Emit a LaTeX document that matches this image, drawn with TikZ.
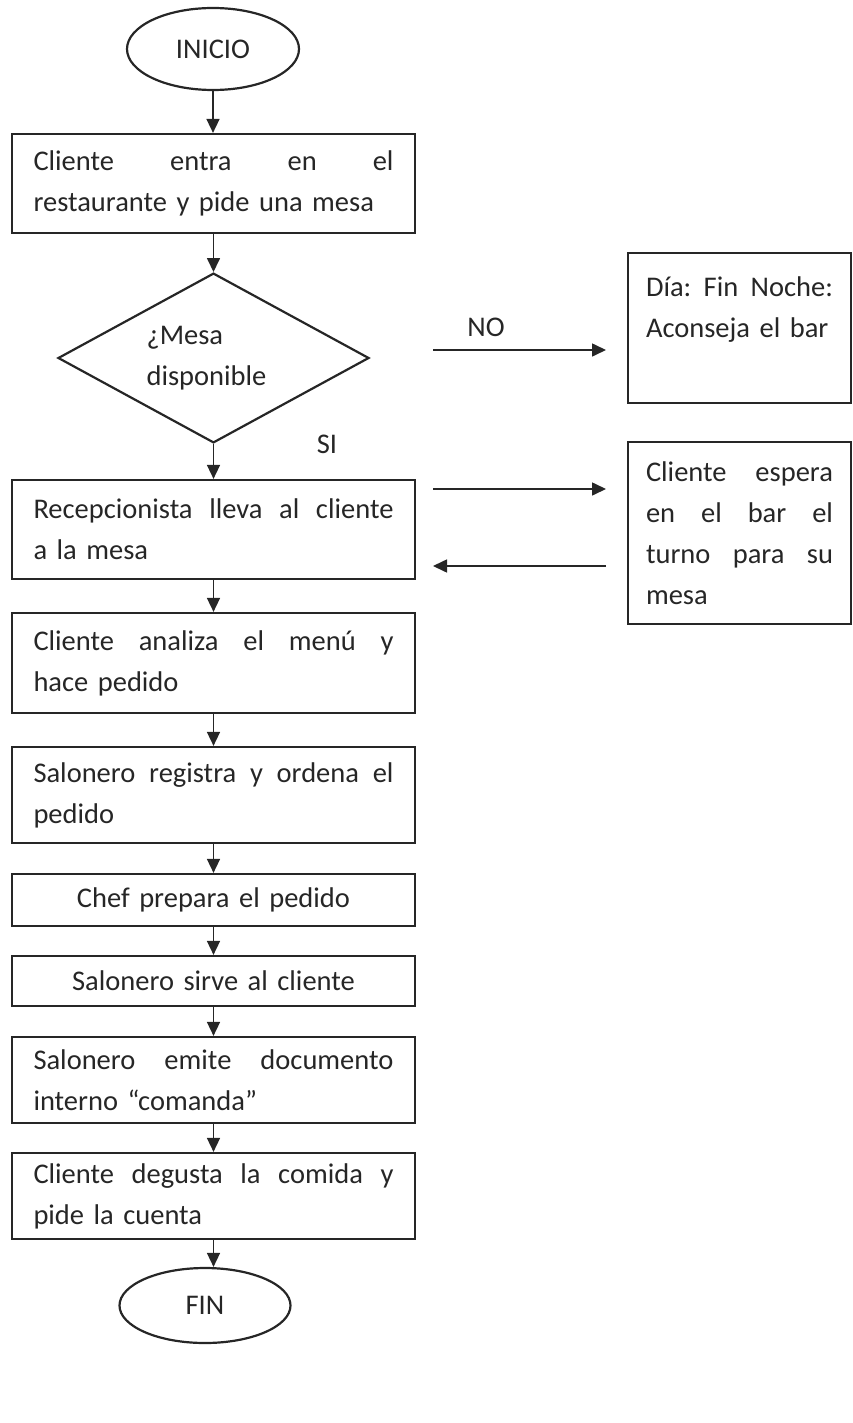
\documentclass[tikz,border=0pt]{standalone}
\usepackage{fontspec}
\setmainfont{Carlito}
\usetikzlibrary{shapes.geometric,arrows.meta}
\definecolor{ink}{HTML}{262626}
\newcommand\jl[1]{\noindent\hbox to \hsize{#1}}
\begin{document}
\begin{tikzpicture}[x=1pt,y=-1pt,
  every node/.style={font=\fontsize{28.5}{41}\selectfont, text=ink},
  box/.style={draw=ink, line width=2.2pt, rectangle, inner xsep=21.5pt, inner ysep=0pt,
    text width=360pt, align=left},
  sidebox/.style={draw=ink, line width=2.2pt, rectangle, inner xsep=18pt, inner ysep=0pt,
    text width=187pt, align=left},
  term/.style={draw=ink, line width=2.2pt, ellipse, inner sep=0pt},
  dia/.style={draw=ink, line width=2.2pt, diamond, inner sep=0pt, align=left,
    minimum width=311pt, minimum height=168pt},
  lbl/.style={inner sep=0pt},
  arr/.style={draw=ink, line width=1.6pt, -{Triangle[length=14pt,width=13pt]}}
]
\useasboundingbox (0,0) rectangle (853,1423);

\node[term, minimum width=172pt, minimum height=82pt] (ini) at (213,49) {INICIO};
\node[box, minimum height=99pt] (b1) at (213.5,183.5)
  {\jl{Cliente\hfill entra\hfill en\hfill el}\\restaurante y pide una mesa};
\node[dia] (dec) at (213.5,358) {\hspace*{-14pt}¿Mesa\\\hspace*{-14pt}disponible};
\node[box, minimum height=99pt] (b2) at (213.5,529.5)
  {\jl{Recepcionista\hfill lleva\hfill al\hfill cliente}\\a la mesa};
\node[box, minimum height=100pt] (b3) at (213.5,663)
  {\jl{Cliente\hfill analiza\hfill el\hfill menú\hfill y}\\hace pedido};
\node[box, minimum height=96pt] (b4) at (213.5,795)
  {\jl{Salonero\hfill registra\hfill y\hfill ordena\hfill el}\\pedido};
\node[box, minimum height=52pt, align=center] (b5) at (213.5,900) {Chef prepara el pedido};
\node[box, minimum height=50pt, align=center] (b6) at (213.5,981) {Salonero sirve al cliente};
\node[box, minimum height=86pt] (b7) at (213.5,1080)
  {\jl{Salonero\hfill emite\hfill documento}\\interno “comanda”};
\node[box, minimum height=86pt] (b8) at (213.5,1196)
  {\jl{Cliente\hfill degusta\hfill la\hfill comida\hfill y}\\pide la cuenta};
\node[term, minimum width=171pt, minimum height=75pt] (fin) at (205,1305.5) {FIN};

\node[sidebox, minimum height=150pt] (sa) at (739.5,328)
  {\jl{Día:\hfill Fin\hfill Noche:}\\Aconseja el bar\\\mbox{}};
\node[sidebox, minimum height=182pt] (sb) at (739.5,533)
  {\jl{Cliente\hfill espera}\\\jl{en\hfill el\hfill bar\hfill el}\\\jl{turno\hfill para\hfill su}\\mesa};

\node[lbl] (no) at (486,327) {NO};
\node[lbl] (si) at (327,444) {SI};

\coordinate (noA) at (433,350);
\coordinate (noB) at (606,350);
\coordinate (waA) at (433,489);
\coordinate (waB) at (606,489);
\coordinate (reA) at (606,566);
\coordinate (reB) at (433,566);

\draw[arr] (ini.south) -- (ini.south |- b1.north);
\draw[arr] (b1.south) -- (dec.north);
\draw[arr] (dec.south) -- (b2.north);
\draw[arr] (b2.south) -- (b3.north);
\draw[arr] (b3.south) -- (b4.north);
\draw[arr] (b4.south) -- (b5.north);
\draw[arr] (b5.south) -- (b6.north);
\draw[arr] (b6.south) -- (b7.north);
\draw[arr] (b7.south) -- (b8.north);
\draw[arr] (b8.south) -- (b8.south |- fin.north);

\draw[arr] (noA) -- (noB);
\draw[arr] (waA) -- (waB);
\draw[arr] (reA) -- (reB);
\end{tikzpicture}
\end{document}
